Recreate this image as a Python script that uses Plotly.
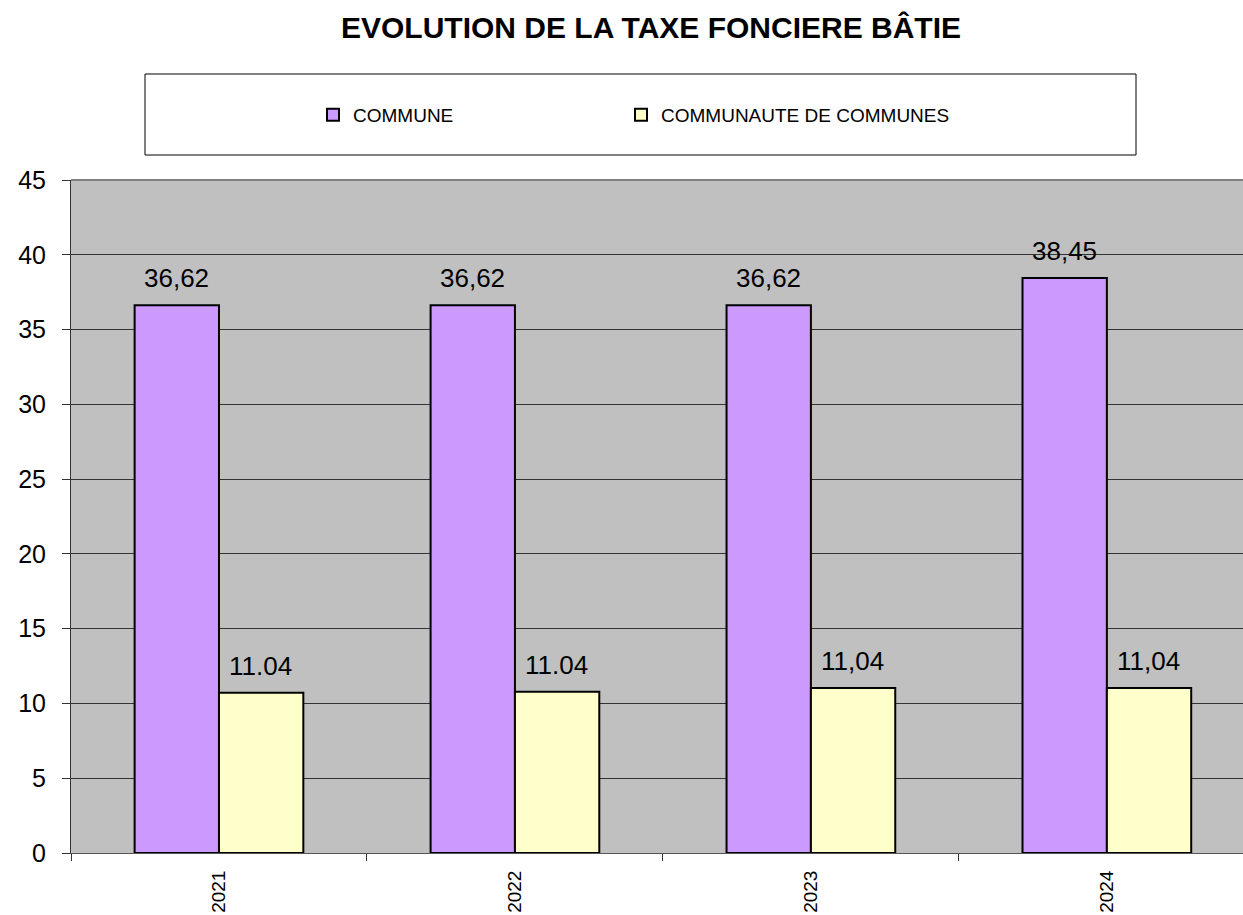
import plotly.graph_objects as go

years = ["2021", "2022", "2023", "2024"]
commune = [36.62, 36.62, 36.62, 38.45]
commune_labels = ["36,62", "36,62", "36,62", "38,45"]
cc = [10.72, 10.79, 11.04, 11.04]
cc_labels = ["11.04", "11.04", "11,04", "11,04"]

FONT = "Liberation Sans, Arial, sans-serif"
W, H = 1243, 915
L, T, B = 71, 180, 62
PW = W - L
PH = H - T - B


def px(x):
    return (x - L) / PW


def py(y):
    return (H - B - y) / PH


fig = go.Figure()
fig.add_trace(go.Bar(x=years, y=commune, name="COMMUNE", legend="legend",
                     marker=dict(color="#CC99FF", line=dict(color="black", width=2))))
fig.add_trace(go.Bar(x=years, y=cc, name="COMMUNAUTE DE COMMUNES", legend="legend2",
                     marker=dict(color="#FFFFCC", line=dict(color="black", width=2))))

for i, y in enumerate(years):
    fig.add_annotation(x=i, y=commune[i], xref="x", yref="y", text=commune_labels[i],
                       showarrow=False, yanchor="bottom", xshift=-42, yshift=10,
                       font=dict(size=26, color="black", family=FONT))
    fig.add_annotation(x=i, y=cc[i], xref="x", yref="y", text=cc_labels[i],
                       showarrow=False, yanchor="bottom", xshift=42, yshift=10,
                       font=dict(size=26, color="black", family=FONT))

# legend box
fig.add_shape(type="rect", xref="paper", yref="paper",
              x0=px(145), x1=px(1136), y0=py(155), y1=py(74),
              line=dict(color="black", width=1), fillcolor="white", layer="below")
# top border of plot area
fig.add_shape(type="line", xref="paper", yref="paper", x0=0, x1=1, y0=1, y1=1,
              line=dict(color="#808080", width=2))

leg_common = dict(orientation="h", xanchor="left", yanchor="middle",
                  bgcolor="rgba(0,0,0,0)", borderwidth=0,
                  font=dict(size=19, family=FONT, color="black"),
                  itemwidth=30)

fig.update_layout(
    width=W, height=H,
    margin=dict(l=L, r=0, t=T, b=B),
    paper_bgcolor="white",
    plot_bgcolor="#C0C0C0",
    font=dict(family=FONT, color="black"),
    title=dict(text="<b>EVOLUTION DE LA TAXE FONCIERE BÂTIE</b>", xref="container",
               x=651 / W, xanchor="center", y=1 - 27 / H, yanchor="middle",
               font=dict(size=30, family=FONT, color="black")),
    barmode="group", bargap=0.43, bargroupgap=0,
    showlegend=True,
    legend=dict(x=px(313), y=py(115), **leg_common),
    legend2=dict(x=px(621), y=py(115), **leg_common),
    xaxis=dict(type="category", range=[-0.5, 3.46], tickson="boundaries",
               ticks="outside", ticklen=7, tickcolor="#333", tickangle=-90,
               tickfont=dict(size=19, family=FONT, color="black"),
               ticklabelstandoff=9,
               showline=True, linecolor="#555", linewidth=1, showgrid=False),
    yaxis=dict(range=[0, 45], dtick=5, ticks="outside", ticklen=8, tickcolor="#333",
               tickfont=dict(size=25, family=FONT, color="black"),
               showline=True, linecolor="#333", linewidth=1,
               showgrid=True, gridcolor="#333", gridwidth=1, zeroline=False,
               ticklabelstandoff=11),
)

fig.write_html("out.html", config={"displayModeBar": False},
               post_script="document.body.style.margin='0';")
